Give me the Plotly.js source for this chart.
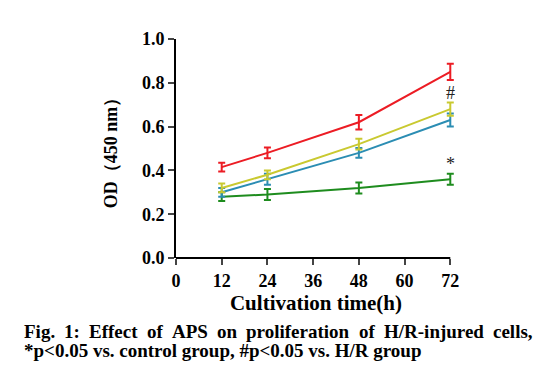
<!DOCTYPE html>
<html><head><meta charset="utf-8">
<script src="https://cdn.plot.ly/plotly-3.0.1.min.js"></script>
<style>body{margin:0;background:#fff}#c{width:550px;height:365px}</style>
</head><body><div id="c"></div>
<script>
const hours = [12, 24, 48, 72];
const redY = [0.415, 0.48, 0.62, 0.85];
const redErr = [0.02, 0.025, 0.033, 0.037];
const yellowY = [0.32, 0.38, 0.52, 0.68];
const yellowErr = [0.02, 0.02, 0.025, 0.03];
const blueY = [0.30, 0.36, 0.48, 0.63];
const blueErr = [0.02, 0.025, 0.022, 0.03];
const greenY = [0.28, 0.29, 0.32, 0.36];
const greenErr = [0.02, 0.025, 0.025, 0.025];
const xTicks = [0, 12, 24, 36, 48, 60, 72];
const yTicks = [0, 0.2, 0.4, 0.6, 0.8, 1.0];
const yTickText = ['0.0', '0.2', '0.4', '0.6', '0.8', '1.0'];
const marks = [{x: 72, y: 0.755, t: '#'}, {x: 72, y: 0.43, t: '*'}];
const caption1 = 'Fig. 1: Effect of APS on proliferation of H/R-injured cells,';
const caption2 = '*p&lt;0.05 vs. control group, #p&lt;0.05 vs. H/R group';

const serif = 'Liberation Serif, Times New Roman, serif';
const W = 550, H = 365, L = 176, T = 39, B = 107;
const xMax = 73.5;                       // small pad so the last error bar is not clipped
const pw = 274 * xMax / 72;              // 72 h spans 274 px
const R = W - L - pw, ph = H - T - B;

function tr(y, e, c) {
  return {x: hours, y: y, type: 'scatter', mode: 'lines', cliponaxis: false,
    line: {color: c, width: 2},
    error_y: {type: 'data', array: e, visible: true, color: c, thickness: 2, width: 3.5}};
}
const data = [
  tr(greenY, greenErr, '#1e8c1e'),
  tr(blueY, blueErr, '#2b8db3'),
  tr(yellowY, yellowErr, '#c9c930'),
  tr(redY, redErr, '#ec1c24')
];

// justified first caption line
const capFont = 19;
const ctx = document.createElement('canvas').getContext('2d');
ctx.font = 'bold ' + capFont + 'px "Liberation Serif"';
const words = caption1.split(' ');
const lineLeft = 22, lineRight = 530;
const wordW = words.map(w => ctx.measureText(w).width);
const gap = (lineRight - lineLeft - wordW.reduce((a, b) => a + b, 0)) / (words.length - 1);
let cx = lineLeft;
const capAnns = words.map((w, i) => {
  const a = {xref: 'paper', yref: 'paper', x: (cx - L) / pw, y: (H - B - 331) / ph,
    xanchor: 'left', yanchor: 'middle', showarrow: false, text: w,
    font: {family: serif, size: capFont, weight: 'bold', color: '#000'}};
  cx += wordW[i] + gap;
  return a;
});
capAnns.push({xref: 'paper', yref: 'paper', x: (lineLeft - L) / pw, y: (H - B - 350) / ph,
  xanchor: 'left', yanchor: 'middle', showarrow: false, text: caption2,
  font: {family: serif, size: capFont, weight: 'bold', color: '#000'}});

const layout = {
  width: W, height: H, showlegend: false,
  paper_bgcolor: '#fff', plot_bgcolor: '#fff',
  margin: {l: L, r: R, t: T, b: B},
  font: {family: serif, color: '#000'},
  xaxis: {range: [0, xMax], tickvals: xTicks, ticks: 'outside', ticklen: 6, tickwidth: 2,
    showline: false, showgrid: false, zeroline: false,
    tickfont: {family: serif, size: 18, weight: 'bold'},
    title: {text: 'Cultivation time(h)', font: {family: serif, size: 21, weight: 'bold'}, standoff: 4}},
  yaxis: {range: [0, 1.0], tickvals: yTicks, ticktext: yTickText, ticks: 'outside', ticklen: 6, tickwidth: 2,
    showline: true, linewidth: 2, linecolor: '#000', showgrid: false, zeroline: false,
    tickfont: {family: serif, size: 18, weight: 'bold'},
    title: {text: 'OD（450 nm）', font: {family: serif, size: 18, weight: 'bold'}, standoff: 20}},
  shapes: [{type: 'line', xref: 'x', yref: 'paper', x0: xTicks[0], x1: xTicks[xTicks.length - 1], y0: 0, y1: 0,
    line: {color: '#000', width: 2}}],
  annotations: marks.map(m => ({x: m.x, y: m.y, xref: 'x', yref: 'y', text: m.t, showarrow: false,
    font: {family: serif, size: 18, color: '#222'}})).concat(capAnns)
};
Plotly.newPlot('c', data, layout, {staticPlot: true});
</script></body></html>
